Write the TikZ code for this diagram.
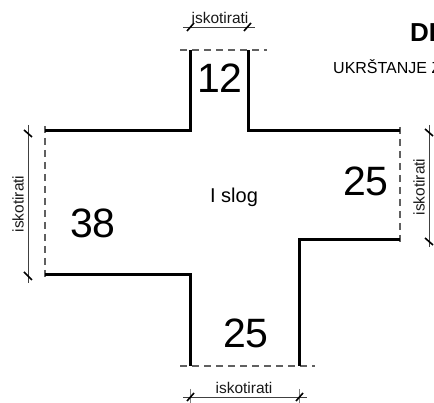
\documentclass[tikz,border=0pt]{standalone}
\usepackage{fontspec}
\setmainfont{Liberation Sans}
\newcommand{\fs}[1]{\fontsize{#1pt}{#1pt}\selectfont}
\tikzset{
  wall/.style={line width=3pt,line cap=butt,line join=miter,black},
  cut/.style={line width=1.2pt,dash pattern=on 7pt off 5pt,gray!75!black},
  dimline/.style={line width=0.9pt,black!75},
  tick/.style={line width=1.6pt,black},
  thin tick/.style={line width=0.6pt,gray},
  dimtext/.style={font=\fs{15.5},inner sep=0pt,text=black!90},
  bignum/.style={font=\fs{41},inner sep=0pt},
}
\begin{document}
\begin{tikzpicture}[x=1pt,y=-1pt]
\useasboundingbox (0,0) rectangle (434,403);
\clip (0,0) rectangle (434,403);
% corners
\coordinate (a) at (190,50); \coordinate (b) at (190,131); \coordinate (c) at (45,131);
\coordinate (d) at (45,275); \coordinate (e) at (190,275); \coordinate (f) at (190,366);
\coordinate (g) at (299,366); \coordinate (h) at (299,240); \coordinate (i) at (400,240);
\coordinate (j) at (400,131); \coordinate (k) at (248,131); \coordinate (l) at (248,50);
% cut lines
\draw[cut] (180,50) -- (267,50);
\draw[cut] (45,126) -- (45,281);
\draw[cut] (180,366) -- (315,366);
\draw[cut] (400,127) -- (400,245);
% walls
\draw[wall] (a) -- (b) -- (c);
\draw[wall] (d) -- (e) -- (f);
\draw[wall] (g) -- (h) -- (i);
\draw[wall] (j) -- (k) -- (l);
% top dimension
\draw[dimline] (183,27) -- (255,27);
\draw[tick] (187,31) -- (194,23);
\draw[tick] (244,31) -- (251,23);
% bottom dimension
\draw[dimline] (183,397) -- (307,397);
\draw[thin tick] (190,389) -- (190,403);
\draw[thin tick] (299,389) -- (299,403);
\draw[tick] (187,401) -- (194,393);
\draw[tick] (296,401) -- (303,393);
% left dimension
\draw[dimline] (28,125) -- (28,283);
\draw[tick] (24,130) -- (32,137);
\draw[tick] (24,272) -- (32,280);
% right dimension
\draw[dimline] (429,125) -- (429,247);
\draw[tick] (425,129) -- (433,136);
\draw[tick] (425,238) -- (433,245);
% labels
\node[dimtext] (t1) at (220,18) {iskotirati};
\node[dimtext] (t2) at (244,388) {iskotirati};
\node[dimtext,rotate=90] (t3) at (18,204) {iskotirati};
\node[dimtext,rotate=90] (t4) at (419,187) {iskotirati};
\node[bignum] (n12) at (220,78) {12};
\node[bignum] (n38) at (93,223) {38};
\node[bignum] (n25a) at (366,181) {25};
\node[bignum] (n25b) at (246,333) {25};
\node[font=\fs{20},inner sep=0pt] (slog) at (234,197) {I slog};
\node[font=\bfseries\fs{26},inner sep=0pt,anchor=base west] (title) at (410,42) {DI};
\node[font=\fs{16},inner sep=0pt,anchor=base west] (sub) at (333,74) {UKRŠTANJE Z};
\end{tikzpicture}
\end{document}
